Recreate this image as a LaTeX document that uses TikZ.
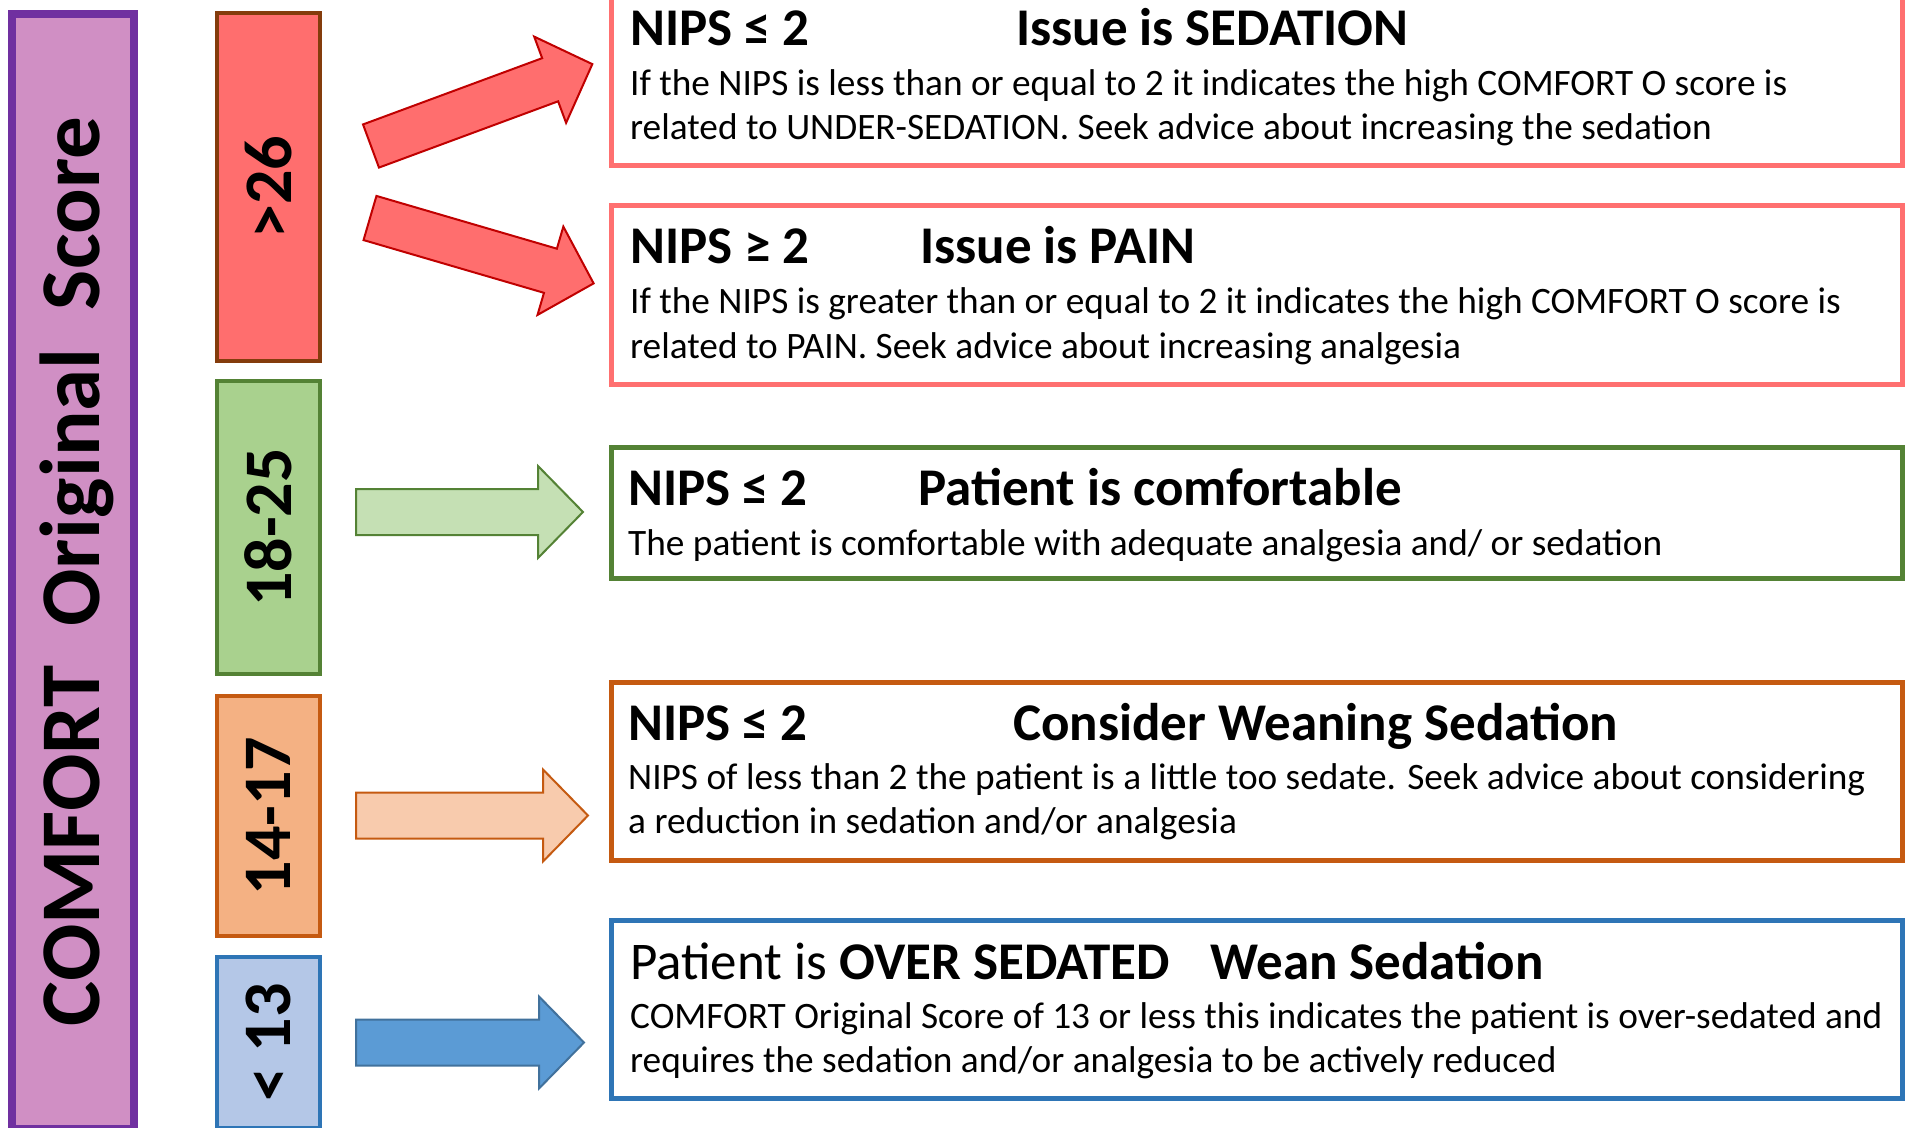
\documentclass[tikz,border=0pt]{standalone}
\usepackage{fontspec}
\setmainfont{Carlito}
\usepackage{tikz}
\definecolor{comfpurple}{RGB}{112,48,160}
\definecolor{comfpink}{RGB}{208,143,196}
\definecolor{comfred}{RGB}{255,110,110}
\definecolor{comfbrown}{RGB}{132,60,12}
\definecolor{comfdarkred}{RGB}{192,0,0}
\definecolor{comfline}{RGB}{255,112,112}
\definecolor{comfgreen}{RGB}{84,130,53}
\definecolor{comfgreenfill}{RGB}{169,209,142}
\definecolor{comfgreenlight}{RGB}{197,224,180}
\definecolor{comforange}{RGB}{197,90,17}
\definecolor{comforangefill}{RGB}{244,177,131}
\definecolor{comforangelight}{RGB}{248,203,173}
\definecolor{comfblue}{RGB}{46,117,182}
\definecolor{comfbluefill}{RGB}{180,199,231}
\definecolor{comfbluearrow}{RGB}{91,155,213}
\definecolor{comfblueline}{RGB}{65,113,156}

\begin{document}
\begin{tikzpicture}[x=1pt, y=-1pt,
  rangebox/.style={draw, line width=4pt, rotate=90, minimum height=103pt, inner sep=0pt,
    font=\bfseries\fontsize{68}{68}\selectfont},
  msgbox/.style={draw, line width=5pt, minimum width=1291pt, inner sep=0pt},
  head/.style={anchor=base west, inner sep=0pt, font=\bfseries\fontsize{53}{53}\selectfont},
  body/.style={anchor=base west, inner sep=0pt, font=\fontsize{37.3}{37.3}\selectfont},
  fatarrow/.style={line width=2pt, line join=miter}]
  \useasboundingbox (0,0) rectangle (1921,1127);
  \clip (0,0) rectangle (1921,1127);

  % Score bar
  \node[draw=comfpurple, fill=comfpink, line width=8pt, rotate=90, minimum width=1115pt,
    minimum height=122pt, inner sep=0pt, text height=52pt, text depth=0pt,
    font=\bfseries\fontsize{85}{85}\selectfont]
    (score) at (73,571.5) {COMFORT\ \ Original\ \ Score};

  % Score ranges
  \node[rangebox, fill=comfred, draw=comfbrown, minimum width=348pt] (rHigh) at (268.5,187) {>26};
  \node[rangebox, fill=comfgreenfill, draw=comfgreen, minimum width=293pt] (rOk) at (268.5,527.5) {18-25};
  \node[rangebox, fill=comforangefill, draw=comforange, minimum width=240pt] (rLow) at (268.5,816) {14-17};
  \node[rangebox, fill=comfbluefill, draw=comfblue, minimum width=171pt] (rOver) at (268.5,1042.5) {< 13};

  % Message boxes
  \node[msgbox, draw=comfline, minimum height=173pt] (mSed) at (1257,79) {};
  \node[msgbox, draw=comfline, minimum height=179pt] (mPain) at (1257,295) {};
  \node[msgbox, draw=comfgreen, minimum height=131pt] (mComf) at (1257,513) {};
  \node[msgbox, draw=comforange, minimum height=178pt] (mWean) at (1257,771.5) {};
  \node[msgbox, draw=comfblue, minimum height=178pt] (mOver) at (1257,1009.5) {};

  % Block arrows from ranges to messages
  \foreach \px/\py/\ang/\len/\fc/\dc in {371/146/20.3/236/comfred/comfdarkred,
      370/218/-16.3/233/comfred/comfdarkred, 356/512/0/227/comfgreenlight/comfgreen,
      356/815.5/0/232/comforangelight/comforange, 356/1042.5/0/228/comfbluearrow/comfblueline} {
    \draw[fatarrow, fill=\fc, draw=\dc, shift={(\px,\py)}, rotate=\ang]
      (0,-23) -- (\len-45,-23) -- (\len-45,-46) -- (\len,0) -- (\len-45,46) -- (\len-45,23) -- (0,23) -- cycle;
  }

  % Texts
  \node[head] (sedN) at (630,45) {NIPS ≤ 2};
  \node[head] (sedT) at (1016,45) {Issue is SEDATION};
  \node[body] (sedA) at (630,95) {If the NIPS is less than or equal to 2 it indicates the high COMFORT O score is};
  \node[body] (sedB) at (630,139) {related to UNDER-SEDATION. Seek advice about increasing the sedation};

  \node[head] (painN) at (630,263) {NIPS ≥ 2};
  \node[head] (painT) at (920,263) {Issue is PAIN};
  \node[body] (painA) at (630,313) {If the NIPS is greater than or equal to 2 it indicates the high COMFORT O score is};
  \node[body] (painB) at (630,358) {related to PAIN. Seek advice about increasing analgesia};

  \node[head] (comfN) at (628,505) {NIPS ≤ 2};
  \node[head] (comfT) at (918,505) {Patient is comfortable};
  \node[body] (comfA) at (628,555) {The patient is comfortable with adequate analgesia and/ or sedation};

  \node[head] (weanN) at (628,740) {NIPS ≤ 2};
  \node[head] (weanT) at (1013,740) {Consider Weaning Sedation};
  \node[body] (weanA) at (628,789) {NIPS of less than 2 the patient is a little too sedate. Seek advice about considering};
  \node[body] (weanB) at (628,833) {a reduction in sedation and/or analgesia};

  \node[head] (overN) at (630,979) {\mdseries Patient is \bfseries OVER SEDATED};
  \node[head] (overT) at (1210,979) {Wean Sedation};
  \node[body] (overA) at (630,1028) {COMFORT Original Score of 13 or less this indicates the patient is over-sedated and};
  \node[body] (overB) at (630,1072) {requires the sedation and/or analgesia to be actively reduced};
\end{tikzpicture}
\end{document}
